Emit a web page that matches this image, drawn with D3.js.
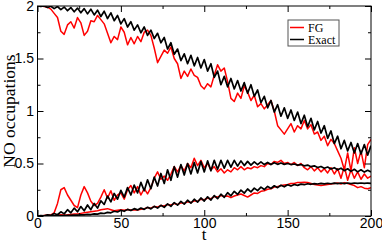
<!DOCTYPE html>
<html>
<head>
<meta charset="utf-8">
<style>
  body { margin: 0; background: #fff; }
  svg { display: block; font-family: "Liberation Serif", "Times New Roman", serif; }
  .tick text { font-size: 14px; fill: #000; }
  .tick line { stroke: #000; }
</style>
<script src="https://cdn.jsdelivr.net/npm/d3@7"></script>
</head>
<body>
<script>
// sample times, every 2 units of t
const times = d3.range(0, 201, 2);

// exact occupations (black)
const exactTop = [2.000,1.995,2.000,1.985,1.998,1.975,1.995,1.965,1.990,1.955,
  1.985,1.945,1.980,1.935,1.975,1.925,1.970,1.915,1.960,1.900,
  1.950,1.880,1.935,1.860,1.910,1.830,1.880,1.800,1.850,1.770,
  1.820,1.745,1.800,1.720,1.770,1.690,1.740,1.650,1.700,1.590,
  1.650,1.540,1.590,1.480,1.545,1.450,1.530,1.430,1.510,1.410,
  1.490,1.380,1.450,1.320,1.380,1.250,1.330,1.230,1.310,1.210,
  1.290,1.190,1.270,1.170,1.250,1.140,1.200,1.080,1.140,1.030,
  1.100,0.990,1.060,0.950,1.030,0.930,1.010,0.910,0.990,0.880,
  0.960,0.850,0.930,0.820,0.900,0.790,0.860,0.740,0.810,0.690,
  0.760,0.640,0.720,0.620,0.700,0.600,0.690,0.590,0.680,0.580,
  0.670];
const exactMid = [0.000,0.004,0.002,0.012,0.006,0.024,0.012,0.040,0.020,0.060,
  0.030,0.075,0.040,0.090,0.050,0.105,0.060,0.120,0.075,0.145,
  0.110,0.190,0.135,0.215,0.160,0.245,0.180,0.270,0.200,0.295,
  0.220,0.320,0.240,0.345,0.260,0.370,0.285,0.405,0.310,0.440,
  0.340,0.470,0.370,0.490,0.390,0.500,0.400,0.510,0.410,0.520,
  0.420,0.525,0.430,0.530,0.445,0.530,0.455,0.530,0.465,0.530,
  0.475,0.525,0.480,0.520,0.485,0.515,0.490,0.515,0.490,0.510,
  0.490,0.508,0.492,0.505,0.492,0.500,0.490,0.495,0.485,0.490,
  0.478,0.485,0.470,0.478,0.462,0.472,0.455,0.466,0.448,0.460,
  0.440,0.455,0.432,0.450,0.425,0.445,0.420,0.440,0.418,0.435,
  0.420];
const exactLow = [0,0,0,0.001,0.001,0.002,0.002,0.004,0.004,0.006,
  0.006,0.008,0.008,0.011,0.011,0.015,0.014,0.020,0.018,0.027,
  0.024,0.035,0.030,0.045,0.038,0.055,0.045,0.063,0.052,0.070,
  0.058,0.076,0.063,0.083,0.068,0.092,0.075,0.102,0.082,0.115,
  0.092,0.128,0.103,0.140,0.113,0.150,0.122,0.160,0.132,0.172,
  0.142,0.183,0.152,0.195,0.165,0.208,0.178,0.222,0.192,0.235,
  0.205,0.247,0.218,0.257,0.230,0.266,0.242,0.275,0.252,0.282,
  0.262,0.288,0.270,0.293,0.278,0.297,0.285,0.300,0.292,0.304,
  0.298,0.307,0.302,0.309,0.305,0.311,0.306,0.312,0.307,0.313,
  0.308,0.314,0.309,0.314,0.309,0.314,0.310,0.314,0.310,0.314,
  0.311];

// FG occupations (red)
const fgTop = [2.000,2.000,1.995,1.990,1.970,1.930,1.890,1.760,1.730,1.820,
  1.850,1.790,1.890,1.840,1.720,1.760,1.860,1.850,1.910,1.870,
  1.830,1.740,1.650,1.710,1.680,1.800,1.750,1.630,1.700,1.640,
  1.710,1.660,1.750,1.770,1.720,1.600,1.460,1.520,1.580,1.550,
  1.610,1.500,1.450,1.310,1.380,1.330,1.400,1.340,1.320,1.240,
  1.210,1.260,1.230,1.340,1.440,1.380,1.410,1.280,1.120,1.090,
  1.170,1.120,1.240,1.180,1.100,1.150,1.040,1.070,1.020,1.060,
  1.100,1.000,0.860,0.820,0.780,0.830,0.880,0.800,0.860,0.830,
  0.910,0.830,0.870,0.780,0.800,0.720,0.760,0.670,0.730,0.690,
  0.620,0.550,0.440,0.600,0.430,0.650,0.500,0.620,0.460,0.680,
  0.730];
const fgMid = [0.000,0.000,0.005,0.010,0.010,0.030,0.120,0.250,0.270,0.200,
  0.150,0.100,0.080,0.200,0.280,0.220,0.140,0.100,0.120,0.180,
  0.250,0.170,0.240,0.150,0.200,0.220,0.160,0.250,0.290,0.220,
  0.280,0.200,0.260,0.210,0.270,0.360,0.420,0.350,0.380,0.340,
  0.400,0.470,0.420,0.480,0.430,0.500,0.460,0.550,0.480,0.530,
  0.460,0.500,0.440,0.470,0.420,0.450,0.410,0.440,0.420,0.460,
  0.440,0.470,0.440,0.460,0.450,0.470,0.460,0.480,0.470,0.500,
  0.490,0.520,0.510,0.530,0.500,0.510,0.490,0.510,0.480,0.500,
  0.460,0.440,0.470,0.430,0.460,0.420,0.450,0.410,0.460,0.400,
  0.450,0.360,0.470,0.340,0.440,0.360,0.420,0.350,0.400,0.360,
  0.380];
const fgLow = [0,0,0,0,0.002,0.004,0.010,0.012,0.010,0.012,
  0.015,0.018,0.020,0.025,0.030,0.035,0.040,0.045,0.050,0.060,
  0.065,0.070,0.060,0.050,0.055,0.060,0.055,0.062,0.058,0.060,
  0.058,0.065,0.070,0.080,0.075,0.090,0.085,0.100,0.095,0.110,
  0.105,0.118,0.110,0.125,0.120,0.135,0.128,0.145,0.140,0.160,
  0.155,0.170,0.165,0.185,0.180,0.195,0.185,0.190,0.175,0.190,
  0.200,0.210,0.195,0.180,0.200,0.220,0.215,0.235,0.240,0.255,
  0.260,0.275,0.280,0.290,0.295,0.300,0.310,0.310,0.320,0.318,
  0.322,0.320,0.310,0.300,0.295,0.290,0.295,0.300,0.305,0.310,
  0.315,0.305,0.318,0.310,0.300,0.290,0.270,0.280,0.265,0.260,
  0.270];

const xTicks = [0, 50, 100, 150, 200];
const yTicks = [0, 0.5, 1, 1.5, 2];
const legendNames = ["FG", "Exact"];
const legendColors = ["#ff0000", "#000000"];

const width = 382, height = 242;
const mLeft = 37.5, mRight = 371, mTop = 6, mBottom = 216;

const x = d3.scaleLinear().domain([0, 200]).range([mLeft, mRight]);
const y = d3.scaleLinear().domain([0, 2]).range([mBottom, mTop]);

const svg = d3.select("body").append("svg")
    .attr("width", width)
    .attr("height", height);

svg.append("clipPath").attr("id", "clip")
  .append("rect")
    .attr("x", mLeft).attr("y", mTop)
    .attr("width", mRight - mLeft).attr("height", mBottom - mTop);

const line = d3.line()
    .x((d, i) => x(times[i]))
    .y(d => y(d));

const plot = svg.append("g").attr("clip-path", "url(#clip)");

[fgTop, fgMid, fgLow].forEach(s => {
  plot.append("path")
      .attr("d", line(s))
      .attr("fill", "none")
      .attr("stroke", "#ff0000")
      .attr("stroke-width", 1.5)
      .attr("stroke-linejoin", "round");
});
[exactTop, exactMid, exactLow].forEach(s => {
  plot.append("path")
      .attr("d", line(s))
      .attr("fill", "none")
      .attr("stroke", "#000")
      .attr("stroke-width", 1.7)
      .attr("stroke-linejoin", "round");
});

// axes, ticks pointing inward on all four sides
function addAxis(axis, tx, ty, labels) {
  const g = svg.append("g")
      .attr("transform", `translate(${tx},${ty})`)
      .call(axis);
  g.select(".domain").remove();
  if (!labels) g.selectAll("text").remove();
  return g;
}
const minorX = d3.range(25, 200, 50);
const minorY = d3.range(0.25, 2, 0.5);

const bx = addAxis(d3.axisBottom(x).tickValues(xTicks).tickSize(-6).tickPadding(1)
    .tickFormat(d3.format("d")), 0, mBottom, true);
bx.selectAll("text").attr("y", 1).attr("dy", "0.75em");
addAxis(d3.axisBottom(x).tickValues(minorX).tickSize(-3), 0, mBottom, false);
addAxis(d3.axisTop(x).tickValues(xTicks).tickSize(-6), 0, mTop, false);
addAxis(d3.axisTop(x).tickValues(minorX).tickSize(-3), 0, mTop, false);

addAxis(d3.axisLeft(y).tickValues(yTicks).tickSize(-6).tickPadding(3)
    .tickFormat(d => d === 0 ? "0" : d3.format("")(d)), mLeft, 0, true)
  .selectAll("text").attr("dx", "-0.5");
addAxis(d3.axisLeft(y).tickValues(minorY).tickSize(-3), mLeft, 0, false);
addAxis(d3.axisRight(y).tickValues(yTicks).tickSize(-6), mRight, 0, false);
addAxis(d3.axisRight(y).tickValues(minorY).tickSize(-3), mRight, 0, false);

svg.append("rect")
    .attr("x", mLeft).attr("y", mTop)
    .attr("width", mRight - mLeft).attr("height", mBottom - mTop)
    .attr("fill", "none")
    .attr("stroke", "#000")
    .attr("stroke-width", 1);

// axis titles
svg.append("text")
    .attr("x", 204)
    .attr("y", 239.5)
    .attr("text-anchor", "middle")
    .attr("font-size", 17)
    .text("t");
svg.append("text")
    .attr("transform", `translate(15,${(mTop + mBottom) / 2}) rotate(-90)`)
    .attr("text-anchor", "middle")
    .attr("font-size", 17.5)
    .text("NO occupations");

// legend
const lg = svg.append("g").attr("transform", "translate(288,20)");
lg.append("rect")
    .attr("width", 51).attr("height", 26)
    .attr("fill", "#fff")
    .attr("stroke", "#555")
    .attr("stroke-width", 1);
legendNames.forEach((name, i) => {
  lg.append("line")
      .attr("x1", 2).attr("x2", 16)
      .attr("y1", 7.5 + i * 12).attr("y2", 7.5 + i * 12)
      .attr("stroke", legendColors[i])
      .attr("stroke-width", 1.5);
  lg.append("text")
      .attr("x", 20)
      .attr("y", 11.5 + i * 12)
      .attr("font-size", 12)
      .text(name);
});
</script>
</body>
</html>
